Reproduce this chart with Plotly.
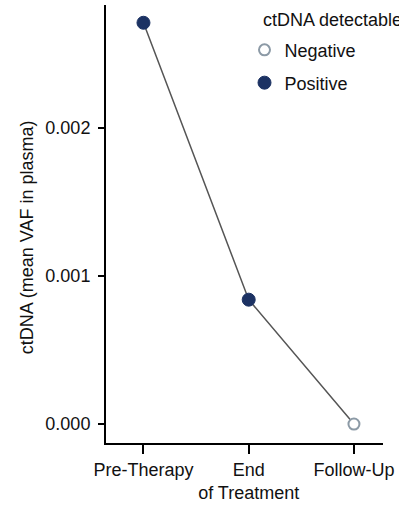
import plotly.graph_objects as go

timepoints = ["Pre-Therapy", "End<br>of Treatment", "Follow-Up"]
vaf = [0.00271, 0.00084, 0.0]
status = ["Positive", "Positive", "Negative"]

y_tickvals = [0.0, 0.001, 0.002]
y_ticktext = ["0.000", "0.001", "0.002"]

navy = "#1c3263"
grey_ring = "#8c9aa6"
font = "Liberation Sans, Arial, sans-serif"
fs = 18

fig = go.Figure()
fig.add_trace(go.Scatter(x=timepoints, y=vaf, mode="lines",
                         line=dict(color="#555555", width=1.5),
                         showlegend=False, hoverinfo="skip"))

neg_x = [t for t, s in zip(timepoints, status) if s == "Negative"]
neg_y = [v for v, s in zip(vaf, status) if s == "Negative"]
pos_x = [t for t, s in zip(timepoints, status) if s == "Positive"]
pos_y = [v for v, s in zip(vaf, status) if s == "Positive"]

fig.add_trace(go.Scatter(x=neg_x, y=neg_y, mode="markers", name="Negative",
                         marker=dict(size=11, color="white",
                                     line=dict(color=grey_ring, width=2)),
                         legend="legend"))
fig.add_trace(go.Scatter(x=pos_x, y=pos_y, mode="markers", name="Positive",
                         marker=dict(size=13, color=navy,
                                     line=dict(color=navy, width=1)),
                         legend="legend2"))

fig.update_layout(
    width=399, height=515,
    margin=dict(l=106, r=16, t=5, b=72),
    plot_bgcolor="white", paper_bgcolor="white",
    font=dict(family=font, size=fs, color="#111111"),
    xaxis=dict(range=[-0.356, 2.276], showline=True, linecolor="black",
               linewidth=2, ticks="outside", ticklen=9, tickwidth=2,
               tickcolor="black", showgrid=False, zeroline=False,
               tickfont=dict(size=fs)),
    yaxis=dict(range=[-0.000128, 0.00283], showline=True, linecolor="black",
               linewidth=2, ticks="outside", ticklen=6, tickwidth=2,
               tickcolor="black", showgrid=False, zeroline=False,
               tickvals=y_tickvals, ticktext=y_ticktext,
               ticklabelstandoff=4, tickfont=dict(size=fs)),
    legend=dict(x=0.5, y=0.897, xanchor="left", yanchor="middle",
                bgcolor="rgba(0,0,0,0)", font=dict(size=fs)),
    legend2=dict(x=0.5, y=0.822, xanchor="left", yanchor="middle",
                 bgcolor="rgba(0,0,0,0)", font=dict(size=fs)),
    annotations=[
        dict(text="ctDNA detectable", xref="paper", yref="paper",
             x=0.56, y=0.966, xanchor="left", yanchor="middle",
             showarrow=False, font=dict(size=fs)),
        dict(text="ctDNA (mean VAF in plasma)", xref="paper", yref="paper",
             x=-0.285, y=0.47, xanchor="center", yanchor="middle",
             textangle=-90, showarrow=False, font=dict(size=fs)),
    ],
)

fig.write_html("out.html")
